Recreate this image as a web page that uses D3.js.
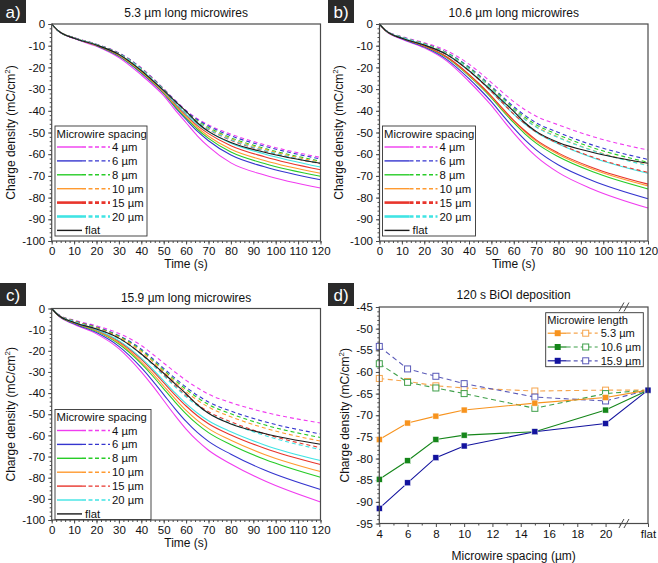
<!DOCTYPE html>
<html><head><meta charset="utf-8">
<script src="https://cdn.jsdelivr.net/npm/d3@7"></script>
<style>body{margin:0;background:#fff}svg{display:block}text{font-family:"Liberation Sans",Arial,sans-serif;fill:#111}</style>
</head><body><svg id="c" width="658" height="563"></svg>
<script>
// ---------- DATA ----------
const times = [0,3,10,20,30,40,45,50,55,60,65,70,80,95,120];
const spacingLabels = ["4 µm","6 µm","8 µm","10 µm","15 µm","20 µm"];
const spacingLabelsB = ["4 µm","6 µm","8 µm","10 µm","15 µm","20  µm"];
const flatCurve = [0,-3.2,-6.6,-9.7,-14,-21.5,-26,-30.6,-35.5,-40.3,-45.5,-49.5,-54.6,-59.1,-64.2];

// 5.3 µm long microwires
const aSolid = [
  [0,-3.3,-6.7,-10.3,-15.5,-23.5,-28,-33,-39.5,-45.5,-51.5,-56.5,-64,-69.6,-75.6],
  [0,-3.3,-6.6,-10.0,-14.9,-22.6,-27.1,-32.1,-38.3,-44.0,-49.4,-53.8,-60.4,-65.8,-71.8],
  [0,-3.3,-6.5,-9.9,-14.7,-22.3,-26.8,-31.8,-37.8,-43.3,-48.5,-52.7,-59.0,-64.3,-70.2],
  [0,-3.2,-6.5,-9.8,-14.4,-21.9,-26.5,-31.5,-37.3,-42.8,-47.7,-51.7,-57.7,-62.9,-68.8],
  [0,-3.2,-6.5,-9.7,-14.2,-21.5,-26.1,-31.1,-36.8,-42.1,-46.8,-50.5,-56.1,-61.2,-67.2],
  [0,-3.2,-6.4,-9.6,-14.0,-21.2,-25.8,-30.8,-36.4,-41.6,-46.1,-49.6,-54.9,-59.9,-65.9]
];
const aDashed = [
  [0,-3.2,-6.3,-9.3,-13.3,-20.2,-24.8,-29.8,-35,-39.8,-43.6,-46.5,-50.8,-55.6,-61.5],
  [0,-3.2,-6.3,-9.4,-13.4,-20.4,-25.0,-30.0,-35.2,-40.1,-44.0,-47.0,-51.5,-56.3,-62.2],
  [0,-3.2,-6.4,-9.4,-13.6,-20.6,-25.2,-30.2,-35.5,-40.5,-44.6,-47.7,-52.4,-57.3,-63.2],
  [0,-3.2,-6.4,-9.5,-13.7,-20.7,-25.3,-30.3,-35.7,-40.7,-44.9,-48.1,-52.9,-57.8,-63.7],
  [0,-3.2,-6.4,-9.5,-13.8,-20.9,-25.5,-30.5,-36.0,-41.0,-45.3,-48.6,-53.6,-58.5,-64.4],
  [0,-3.2,-6.4,-9.5,-13.7,-20.8,-25.4,-30.4,-35.9,-40.9,-45.1,-48.4,-53.3,-58.3,-64.2]
];
// 10.6 µm long microwires
const bSolid = [
  [0,-3.4,-7,-11,-17,-26.5,-31.8,-37.5,-44,-50.3,-56,-61,-68.5,-76,-84.8],
  [0,-3.3,-6.8,-10.6,-16.3,-25.2,-30.3,-35.8,-42.0,-48.0,-53.4,-58.0,-65.0,-72.1,-80.5],
  [0,-3.3,-6.6,-10.2,-15.5,-23.9,-28.7,-34.0,-39.9,-45.5,-50.6,-54.9,-61.2,-68.0,-76.0],
  [0,-3.3,-6.5,-10.1,-15.2,-23.5,-28.3,-33.5,-39.3,-44.8,-49.7,-54.0,-60.1,-66.8,-74.6],
  [0,-3.2,-6.5,-10.0,-15.1,-23.2,-28.0,-33.2,-38.9,-44.4,-49.2,-53.4,-59.5,-66.1,-73.8],
  [0,-3.2,-6.3,-9.6,-14.2,-21.7,-26.2,-31.2,-36.5,-41.6,-46.1,-49.9,-55.3,-61.5,-68.8]
];
const bDashed = [
  [0,-3.0,-5.8,-8.6,-12.3,-18.5,-22.5,-27,-31.5,-35.8,-39.5,-42.5,-46.5,-51.8,-58.1],
  [0,-3.1,-6.0,-9.0,-13.1,-19.8,-24.0,-28.7,-33.5,-38.1,-42.1,-45.5,-50.0,-55.7,-62.4],
  [0,-3.1,-6.1,-9.1,-13.3,-20.2,-24.5,-29.2,-34.1,-38.9,-43.0,-46.4,-51.1,-56.9,-63.7],
  [0,-3.1,-6.1,-9.2,-13.5,-20.6,-24.9,-29.7,-34.8,-39.6,-43.8,-47.3,-52.2,-58.1,-65.0],
  [0,-3.2,-6.3,-9.5,-14.1,-21.6,-26.1,-31.1,-36.4,-41.5,-45.9,-49.7,-55.1,-61.2,-68.4],
  [0,-3.1,-6.1,-9.3,-13.6,-20.7,-25.0,-29.8,-34.9,-39.7,-44.0,-47.5,-52.4,-58.3,-65.3]
];
// 15.9 µm long microwires
const cSolid = [
  [0,-3.5,-7.5,-12,-19,-30,-36.5,-43.5,-50.5,-57,-62.5,-67,-73.5,-81.5,-91.5],
  [0,-3.4,-7.2,-11.4,-17.9,-28.0,-34.1,-40.7,-47.3,-53.4,-58.6,-62.8,-68.9,-76.4,-85.6],
  [0,-3.3,-6.9,-10.8,-16.8,-26.1,-31.8,-38.0,-44.1,-49.8,-54.7,-58.7,-64.4,-71.3,-79.8],
  [0,-3.2,-6.7,-10.5,-16.2,-25.2,-30.7,-36.7,-42.6,-48.2,-52.9,-56.8,-62.3,-69.0,-77.1],
  [0,-3.2,-6.6,-10.2,-15.6,-24.1,-29.4,-35.1,-40.8,-46.1,-50.7,-54.5,-59.8,-66.1,-73.8],
  [0,-3.1,-6.5,-10.0,-15.2,-23.5,-28.6,-34.2,-39.8,-45.0,-49.4,-53.1,-58.3,-64.5,-71.9]
];
const cDashed = [
  [0,-2.8,-5.5,-8.2,-11.8,-17.5,-21.5,-25.8,-30,-34,-37.5,-40.5,-44.5,-49,-54.1],
  [0,-2.9,-5.8,-8.7,-12.8,-19.2,-23.6,-28.3,-32.9,-37.2,-41.0,-44.2,-48.5,-53.5,-59.3],
  [0,-2.9,-5.9,-8.9,-13.1,-19.8,-24.3,-29.1,-33.8,-38.2,-42.1,-45.4,-49.8,-55.0,-61.0],
  [0,-3.0,-6.0,-9.1,-13.5,-20.4,-25.0,-29.9,-34.7,-39.3,-43.3,-46.6,-51.2,-56.5,-62.7],
  [0,-3.0,-6.1,-9.4,-14.1,-21.4,-26.2,-31.3,-36.4,-41.2,-45.3,-48.8,-53.6,-59.2,-65.8],
  [0,-3.0,-6.2,-9.5,-14.2,-21.7,-26.6,-31.8,-36.9,-41.8,-45.9,-49.4,-54.3,-60.0,-66.7]
];
// 120 s BiOI deposition
const dSpacing = [4,6,8,10,15,20];
const dLengths = ["5.3 µm","10.6 µm","15.9 µm"];
const d53Wire  = [-75.6,-71.8,-70.2,-68.8,-67.2,-65.9];
const d53Open  = [-61.5,-62.2,-63.2,-63.7,-64.4,-64.2];
const d106Wire = [-84.8,-80.5,-75.6,-74.6,-73.8,-68.8];
const d106Open = [-58.1,-62.4,-63.7,-65.0,-68.4,-65.0];
const d159Wire = [-91.5,-85.6,-79.8,-77.1,-73.8,-71.9];
const d159Open = [-54.1,-59.3,-61.0,-62.7,-65.8,-66.7];
const dFlat = -64.2;

// ---------- STYLE ----------
const spacingColors = ["#f03cf0","#3535cf","#28cc28","#ff9a30","#e8352c","#40e4e4"];
const axisColor = "#4a4a4a";
const svg = d3.select("#c");

function panelLabel(x, y, txt) {
  svg.append("rect").attr("x", x).attr("y", y).attr("width", 26).attr("height", 23).attr("fill", "#2a2a2a");
  svg.append("text").attr("x", x + 13).attr("y", y + 17.5).attr("text-anchor", "middle")
    .style("fill", "#fff").attr("font-size", 17).text(txt);
}

function styleAxis(sel) {
  sel.select(".domain").remove();
  sel.selectAll(".tick line").attr("stroke", axisColor);
  sel.selectAll(".tick text").attr("font-size", 11.5).style("fill", "#111")
    .attr("font-family", '"Liberation Sans", Arial, sans-serif');
}

function yTitle(x, yc) {
  const t = svg.append("text").attr("transform", `translate(${x},${yc}) rotate(-90)`)
    .attr("text-anchor", "middle").attr("font-size", 12);
  t.append("tspan").text("Charge density (mC/cm");
  t.append("tspan").attr("font-size", 8).attr("dy", -5).text("2");
  t.append("tspan").attr("dy", 5).text(")");
}

function timePanel(cfg) {
  const x = d3.scaleLinear().domain([0, 120]).range([cfg.x0, cfg.x1]);
  const y = d3.scaleLinear().domain([0, -100]).range([cfg.y0, cfg.y1]);
  // axes
  svg.append("g").attr("transform", `translate(0,${cfg.y1})`)
    .call(d3.axisBottom(x).tickValues(d3.range(0, 121, 2)).tickSize(2).tickFormat("")).call(styleAxis);
  svg.append("g").attr("transform", `translate(0,${cfg.y1})`)
    .call(d3.axisBottom(x).tickValues(d3.range(0, 121, 10)).tickSize(3.5).tickPadding(2.5)).call(styleAxis);
  svg.append("g").attr("transform", `translate(${cfg.x0},0)`)
    .call(d3.axisLeft(y).tickValues(d3.range(0, -101, -2)).tickSize(2).tickFormat("")).call(styleAxis);
  svg.append("g").attr("transform", `translate(${cfg.x0},0)`)
    .call(d3.axisLeft(y).tickValues(d3.range(0, -101, -10)).tickSize(3.5).tickPadding(3)
      .tickFormat(d => d === 0 ? "0" : "-" + Math.abs(d))).call(styleAxis);

  const line = d3.line().x((d, i) => x(times[i])).y(d => y(d)).curve(d3.curveMonotoneX);
  cfg.solid.forEach((s, i) => svg.append("path").attr("d", line(s)).attr("fill", "none")
    .attr("stroke", spacingColors[i]).attr("stroke-width", 1.1));
  cfg.dashed.forEach((s, i) => svg.append("path").attr("d", line(s)).attr("fill", "none")
    .attr("stroke", spacingColors[i]).attr("stroke-width", 1.1).attr("stroke-dasharray", "4,3"));
  svg.append("path").attr("d", line(flatCurve)).attr("fill", "none").attr("stroke", "#1a1a1a").attr("stroke-width", 1.1);

  // frame
  svg.append("rect").attr("x", cfg.x0).attr("y", cfg.y0).attr("width", cfg.x1 - cfg.x0)
    .attr("height", cfg.y1 - cfg.y0).attr("fill", "none").attr("stroke", axisColor).attr("stroke-width", 1.2);

  // titles
  svg.append("text").attr("x", (cfg.x0 + cfg.x1) / 2).attr("y", cfg.y0 - 7).attr("text-anchor", "middle")
    .attr("font-size", 12).text(cfg.title);
  svg.append("text").attr("x", (cfg.x0 + cfg.x1) / 2).attr("y", cfg.y1 + 27).attr("text-anchor", "middle")
    .attr("font-size", 12).text("Time (s)");
  yTitle(cfg.x0 - 37, (cfg.y0 + cfg.y1) / 2);

  // legend
  const L = cfg.legend;
  svg.append("rect").attr("x", L.x).attr("y", L.y).attr("width", L.w).attr("height", 110)
    .attr("fill", "#fff").attr("stroke", "#333").attr("stroke-width", 0.9);
  svg.append("text").attr("x", L.x + 1.5).attr("y", L.y + 11.5).attr("font-size", 11.3).text("Microwire spacing");
  const rowY = i => L.y + 21 + i * 13.9;
  cfg.labels.forEach((lab, i) => {
    const yy = rowY(i);
    const w = (L.thick && i >= 4) ? 2.6 : 1.4;
    svg.append("line").attr("x1", L.x + 2).attr("x2", L.x + 27).attr("y1", yy).attr("y2", yy)
      .attr("stroke", spacingColors[i]).attr("stroke-width", w);
    svg.append("line").attr("x1", L.x + 27).attr("x2", L.x + 55).attr("y1", yy).attr("y2", yy)
      .attr("stroke", spacingColors[i]).attr("stroke-width", w).attr("stroke-dasharray", "4,2.5");
    svg.append("text").attr("x", L.x + 57).attr("y", yy + 4).attr("font-size", 11.3).text(lab);
  });
  const fy = rowY(6);
  svg.append("line").attr("x1", L.x + 2).attr("x2", L.x + 27).attr("y1", fy).attr("y2", fy)
    .attr("stroke", "#1a1a1a").attr("stroke-width", 1.4);
  svg.append("text").attr("x", L.x + 30).attr("y", fy + 4).attr("font-size", 11.3).text("flat");
}

timePanel({x0: 51.7, x1: 320.5, y0: 24, y1: 241, title: "5.3 µm long microwires",
  solid: aSolid, dashed: aDashed, labels: spacingLabels, legend: {x: 55, y: 126, w: 92, thick: true}});
timePanel({x0: 379.5, x1: 648, y0: 24, y1: 241, title: "10.6 µm long microwires",
  solid: bSolid, dashed: bDashed, labels: spacingLabelsB, legend: {x: 382.5, y: 126, w: 93, thick: true}});
timePanel({x0: 51.7, x1: 320.5, y0: 308.5, y1: 520, title: "15.9 µm long microwires",
  solid: cSolid, dashed: cDashed, labels: spacingLabels, legend: {x: 55, y: 409.5, w: 96, thick: false}});

// ---------- Panel d ----------
(function () {
  const x0 = 379.3, x1 = 648, y0 = 307, y1 = 523.5;
  const flatPos = 23;
  const x = d3.scaleLinear().domain([4, flatPos]).range([x0, x1]);
  const y = d3.scaleLinear().domain([-45, -95]).range([y0, y1]);
  svg.append("g").attr("transform", `translate(0,${y1})`)
    .call(d3.axisBottom(x).tickValues(d3.range(5, 22, 2)).tickSize(2).tickFormat("")).call(styleAxis);
  svg.append("g").attr("transform", `translate(0,${y1})`)
    .call(d3.axisBottom(x).tickValues(d3.range(4, 21, 2).concat([flatPos])).tickSize(3.5).tickPadding(3)
      .tickFormat(d => d === flatPos ? "flat" : d)).call(styleAxis);
  svg.append("g").attr("transform", `translate(${x0},0)`)
    .call(d3.axisLeft(y).tickValues(d3.range(-45, -96, -1)).tickSize(2).tickFormat("")).call(styleAxis);
  svg.append("g").attr("transform", `translate(${x0},0)`)
    .call(d3.axisLeft(y).tickValues(d3.range(-45, -96, -5)).tickSize(3.5).tickPadding(3)
      .tickFormat(d => "-" + Math.abs(d))).call(styleAxis);

  const series = [
    {wire: d53Wire, open: d53Open, c: "#f7931e", cl: "#f6a54e"},
    {wire: d106Wire, open: d106Open, c: "#15861a", cl: "#3f9f4a"},
    {wire: d159Wire, open: d159Open, c: "#13139e", cl: "#5a5ab8"}
  ];
  const line = d3.line().x(d => x(d[0])).y(d => y(d[1]));
  const pts = arr => dSpacing.map((s, i) => [s, arr[i]]).concat([[flatPos, dFlat]]);
  series.forEach(s => {
    svg.append("path").attr("d", line(pts(s.open))).attr("fill", "none").attr("stroke", s.cl)
      .attr("stroke-width", 1.1).attr("stroke-dasharray", "5,3.5");
  });
  series.forEach(s => {
    svg.append("path").attr("d", line(pts(s.wire))).attr("fill", "none").attr("stroke", s.c).attr("stroke-width", 1.1);
  });
  series.forEach(s => {
    svg.selectAll(null).data(pts(s.open).slice(0, 6)).enter().append("rect")
      .attr("x", d => x(d[0]) - 3).attr("y", d => y(d[1]) - 3).attr("width", 6).attr("height", 6)
      .attr("fill", "#fff").attr("stroke", s.cl).attr("stroke-width", 1);
  });
  series.forEach(s => {
    svg.selectAll(null).data(pts(s.wire)).enter().append("rect")
      .attr("x", d => x(d[0]) - 3).attr("y", d => y(d[1]) - 3).attr("width", 6).attr("height", 6)
      .attr("fill", s.c).attr("stroke", "#fff").attr("stroke-width", 0.5);
  });

  svg.append("rect").attr("x", x0).attr("y", y0).attr("width", x1 - x0).attr("height", y1 - y0)
    .attr("fill", "none").attr("stroke", axisColor).attr("stroke-width", 1.2);

  // axis break marks
  const bx = x(21.3);
  [y0, y1].forEach(yy => {
    [-2.5, 2.5].forEach(off => {
      svg.append("line").attr("x1", bx + off - 2.5).attr("x2", bx + off + 2.5)
        .attr("y1", yy + 4.5).attr("y2", yy - 4.5).attr("stroke", axisColor).attr("stroke-width", 1);
    });
  });

  svg.append("text").attr("x", (x0 + x1) / 2).attr("y", y0 - 8).attr("text-anchor", "middle")
    .attr("font-size", 12).text("120 s BiOI deposition");
  svg.append("text").attr("x", (x0 + x1) / 2).attr("y", y1 + 36).attr("text-anchor", "middle")
    .attr("font-size", 12).text("Microwire spacing (µm)");
  yTitle(x0 - 30, (y0 + y1) / 2);

  // legend
  const lx = 545.7, ly = 312.7;
  svg.append("rect").attr("x", lx).attr("y", ly).attr("width", 97.6).attr("height", 54)
    .attr("fill", "#fff").attr("stroke", "#333").attr("stroke-width", 0.9);
  svg.append("text").attr("x", lx + 1.5).attr("y", ly + 11).attr("font-size", 11.1).text("Microwire length");
  series.forEach((s, i) => {
    const yy = ly + 20.5 + i * 13.8;
    svg.append("line").attr("x1", lx + 2).attr("x2", lx + 21).attr("y1", yy).attr("y2", yy).attr("stroke", s.c).attr("stroke-width", 1.2);
    svg.append("line").attr("x1", lx + 21).attr("x2", lx + 52).attr("y1", yy).attr("y2", yy).attr("stroke", s.cl)
      .attr("stroke-width", 1.2).attr("stroke-dasharray", "4,3");
    svg.append("rect").attr("x", lx + 12 - 3).attr("y", yy - 3).attr("width", 6).attr("height", 6).attr("fill", s.c);
    svg.append("rect").attr("x", lx + 40 - 3).attr("y", yy - 3).attr("width", 6).attr("height", 6)
      .attr("fill", "#fff").attr("stroke", s.cl).attr("stroke-width", 1);
    svg.append("text").attr("x", lx + 55).attr("y", yy + 4).attr("font-size", 11.1).text(dLengths[i]);
  });
})();

panelLabel(0, 0, "a)");
panelLabel(328, 0, "b)");
panelLabel(0, 283, "c)");
panelLabel(328, 283, "d)");
</script></body></html>
